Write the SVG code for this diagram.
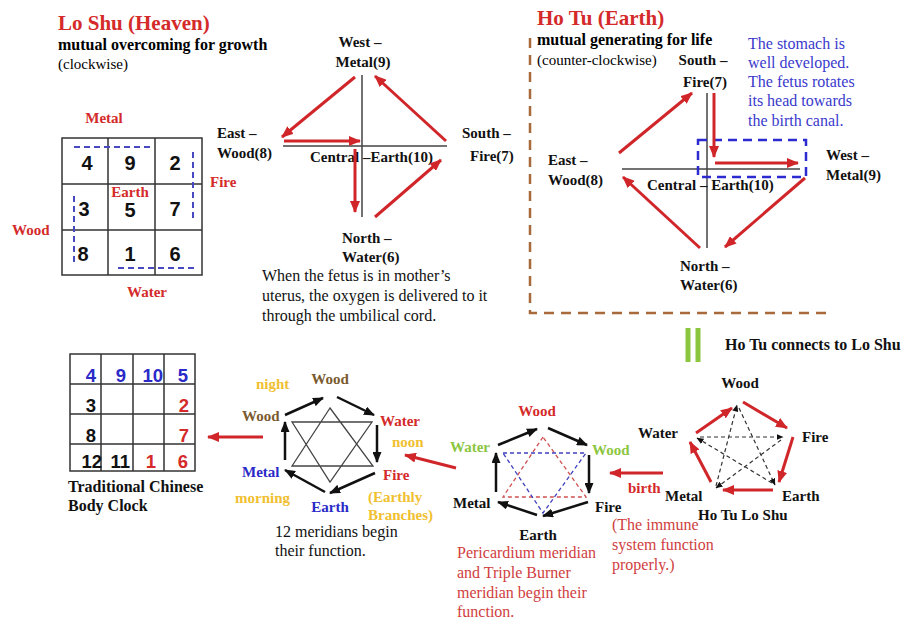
<svg xmlns="http://www.w3.org/2000/svg" width="903" height="619" viewBox="0 0 903 619">
<defs>
<style>
.s{font-family:"Liberation Serif","Times New Roman",serif}
.b{font-weight:bold}
.l{font-size:15px;font-weight:bold}
.r16{font-size:16px}
.n{font-family:"Liberation Sans",Arial,sans-serif;font-weight:bold}
.title{font-size:21px;font-weight:bold;fill:#d42a2a}
.red{fill:#d42a2a}
.lred{fill:#d04040}
.blue{fill:#2a2ac8}
.lblue{fill:#3a3acc}
.green{fill:#8cc63f}
.yel{fill:#f0c030}
.brn{fill:#7a5a2e}
.ra{stroke:#d0262a;stroke-width:3;fill:none;marker-end:url(#mr)}
.ba{stroke:#111;stroke-width:2.5;fill:none;marker-end:url(#mb)}
.ax{stroke:#444;stroke-width:1.5;fill:none}
.grid{stroke:#333;stroke-width:1.5;fill:none}
.bd{stroke:#4848c0;stroke-width:2;stroke-dasharray:6 4;fill:none}
.sd{stroke:#333;stroke-width:1.2;stroke-dasharray:4 3;fill:none;marker-end:url(#ms)}
</style>
<marker id="mr" markerUnits="userSpaceOnUse" markerWidth="12" markerHeight="10" viewBox="0 0 12 10" refX="11" refY="5" orient="auto"><path d="M0,0 L12,5 L0,10 z" fill="#d0262a"/></marker>
<marker id="mb" markerUnits="userSpaceOnUse" markerWidth="11" markerHeight="9" viewBox="0 0 11 9" refX="10" refY="4.5" orient="auto"><path d="M0,0 L11,4.5 L0,9 z" fill="#111"/></marker>
<marker id="ms" markerUnits="userSpaceOnUse" markerWidth="7" markerHeight="6" viewBox="0 0 7 6" refX="6.5" refY="3" orient="auto"><path d="M0,0 L7,3 L0,6 z" fill="#111"/></marker>
</defs>
<rect width="903" height="619" fill="#fff"/>

<g id="lo-shu-title" class="s">
<text x="58" y="30" class="title">Lo Shu (Heaven)</text>
<text x="58" y="50" class="b" font-size="16">mutual overcoming for growth</text>
<text x="58" y="69" font-size="15">(clockwise)</text>
</g>

<g id="lo-shu-grid">
<rect x="62" y="138" width="140" height="137" class="grid"/>
<path d="M108,138 V275 M155,138 V275 M62,184 H202 M62,230 H202" class="grid"/>
<path d="M74,147 H153 M193,152 V222 M74,196 V265 M118,268 H196" class="bd"/>
<g class="n" font-size="20" text-anchor="middle" fill="#111">
<text x="87" y="170">4</text><text x="130" y="170">9</text><text x="175" y="170">2</text>
<text x="84" y="216">3</text><text x="130" y="217">5</text><text x="175" y="216">7</text>
<text x="83" y="261">8</text><text x="130" y="261">1</text><text x="175" y="261">6</text>
</g>
<g class="s l red">
<text x="104" y="123" text-anchor="middle">Metal</text>
<text x="210" y="187">Fire</text>
<text x="12" y="235">Wood</text>
<text x="147" y="297" text-anchor="middle">Water</text>
<text x="130" y="197" text-anchor="middle">Earth</text>
</g>
</g>

<g id="lo-shu-compass" class="s">
<path d="M362,75 V217 M283,146 H447" class="ax"/>
<g class="l" fill="#111">
<text x="360" y="47" text-anchor="middle">West –</text>
<text x="363" y="67" text-anchor="middle">Metal(9)</text>
<text x="217" y="138">East –</text>
<text x="217" y="158">Wood(8)</text>
<text x="310" y="162">Central –Earth(10)</text>
<text x="462" y="138">South –</text>
<text x="470" y="161">Fire(7)</text>
<text x="342" y="243">North –</text>
<text x="342" y="262">Water(6)</text>
</g>
<g class="r16" fill="#111">
<text x="262" y="281">When the fetus is in mother’s</text>
<text x="262" y="301">uterus, the oxygen is delivered to it</text>
<text x="262" y="321">through the umbilical cord.</text>
</g>
</g>

<g id="ho-tu" class="s">
<path d="M530,38 V313 H833" stroke="#a86a3a" stroke-width="2.5" stroke-dasharray="10 7" fill="none"/>
<text x="537" y="25" class="title">Ho Tu (Earth)</text>
<text x="537" y="45" class="b" font-size="16">mutual generating for life</text>
<text x="537" y="65" font-size="15">(counter-clockwise)</text>
<path d="M707,93 V248 M622,169 H800" class="ax"/>
<rect x="698" y="140" width="108" height="37" stroke="#2b2bd0" stroke-width="2.5" stroke-dasharray="9 6" fill="none"/>
<g class="l" fill="#111">
<text x="703" y="65" text-anchor="middle">South –</text>
<text x="705" y="87" text-anchor="middle">Fire(7)</text>
<text x="548" y="165">East –</text>
<text x="548" y="185">Wood(8)</text>
<text x="647" y="190">Central – Earth(10)</text>
<text x="826" y="160">West –</text>
<text x="826" y="180">Metal(9)</text>
<text x="680" y="271">North –</text>
<text x="680" y="290">Water(6)</text>
</g>
<g class="r16 lblue">
<text x="748" y="49">The stomach is</text>
<text x="748" y="68">well developed.</text>
<text x="748" y="87">The fetus rotates</text>
<text x="748" y="106">its head towards</text>
<text x="748" y="126">the birth canal.</text>
</g>
</g>

<g id="ho-tu-connects" class="s">
<path d="M688,328 V362 M698,328 V362" stroke="#8cc63f" stroke-width="5"/>
<text x="725" y="350" class="b" font-size="16" fill="#111">Ho Tu connects to Lo Shu</text>
</g>

<g id="pentagon" class="s">
<g class="l" fill="#111">
<text x="740" y="388" text-anchor="middle">Wood</text>
<text x="638" y="438">Water</text>
<text x="802" y="442">Fire</text>
<text x="665" y="501">Metal</text>
<text x="782" y="501">Earth</text>
<text x="698" y="520">Ho Tu Lo Shu</text>
</g>
<path d="M700,437 L783,437" class="sd"/>
<path d="M739,408 L775,485" class="sd"/>
<path d="M772,483 L697,438" class="sd"/>
<path d="M781,440 L716,488" class="sd"/>
<path d="M716,486 L737,405" class="sd"/>
</g>

<g id="hexagon-2" class="s">
<path d="M543,437 L503,497 L586,497 Z" stroke="#d05050" stroke-width="1.3" stroke-dasharray="4 3" fill="none"/>
<path d="M503,453 L586,453 L543,513 Z" stroke="#4040c0" stroke-width="1.3" stroke-dasharray="4 3" fill="none"/>
<g class="l">
<text x="537" y="416" text-anchor="middle" class="red">Wood</text>
<text x="450" y="452" class="green">Water</text>
<text x="592" y="455" class="green">Wood</text>
<text x="453" y="508" fill="#111">Metal</text>
<text x="595" y="512" fill="#111">Fire</text>
<text x="538" y="540" text-anchor="middle" fill="#111">Earth</text>
<text x="628" y="493" class="red">birth</text>
</g>
<g class="r16 lred">
<text x="457" y="558">Pericardium meridian</text>
<text x="457" y="578">and Triple Burner</text>
<text x="457" y="598">meridian begin their</text>
<text x="457" y="617">function.</text>
<text x="612" y="530">(The immune</text>
<text x="612" y="550">system function</text>
<text x="612" y="570">properly.)</text>
</g>
</g>

<g id="hexagon-1" class="s">
<path d="M330,408 L292,466 L373,466 Z M292,422 L372,422 L330,482 Z" stroke="#444" stroke-width="1.3" fill="none"/>
<g class="l">
<text x="330" y="384" text-anchor="middle" class="brn">Wood</text>
<text x="256" y="389" class="yel">night</text>
<text x="242" y="421" class="brn">Wood</text>
<text x="380" y="426" class="red">Water</text>
<text x="392" y="447" class="yel">noon</text>
<text x="242" y="477" class="blue">Metal</text>
<text x="383" y="480" class="red">Fire</text>
<text x="235" y="503" class="yel">morning</text>
<text x="330" y="512" text-anchor="middle" class="blue">Earth</text>
<text x="368" y="502" class="yel">(Earthly</text>
<text x="368" y="520" class="yel">Branches)</text>
</g>
<g class="r16" fill="#111">
<text x="275" y="537">12 meridians begin</text>
<text x="275" y="556">their function.</text>
</g>
</g>

<g id="body-clock">
<rect x="70" y="354" width="125" height="117" class="grid"/>
<path d="M101,354 V471 M133,354 V471 M164,354 V471 M70,384 H195 M70,414 H195 M70,444 H195" class="grid"/>
<g class="n" font-size="18.5" text-anchor="end">
<text x="96" y="382" class="blue">4</text><text x="126" y="382" class="blue">9</text><text x="163" y="382" class="blue">10</text><text x="188" y="382" class="blue">5</text>
<text x="96" y="412" fill="#111">3</text><text x="189" y="412" class="red">2</text>
<text x="96" y="442" fill="#111">8</text><text x="189" y="442" class="red">7</text>
<text x="102" y="468" fill="#111">12</text><text x="130" y="468" fill="#111">11</text><text x="156" y="468" class="red">1</text><text x="188" y="468" class="red">6</text>
</g>
<g class="s b" font-size="16" fill="#111">
<text x="68" y="492">Traditional Chinese</text>
<text x="68" y="511">Body Clock</text>
</g>
</g>

<g id="connectors">
<path d="M355,77 L282,137" class="ra"/>
<path d="M284,141 L360,141" class="ra"/>
<path d="M446,141 L375,76" class="ra"/>
<path d="M355,149 L355,212" class="ra"/>
<path d="M375,217 L441,160" class="ra"/>
<path d="M619,153 L692,93" class="ra"/>
<path d="M714,93 L714,157" class="ra"/>
<path d="M715,163 L798,163" class="ra"/>
<path d="M805,178 L725,247" class="ra"/>
<path d="M700,248 L623,177" class="ra"/>
<path d="M743,402 L787,428" class="ra"/>
<path d="M793,437 L779,482" class="ra"/>
<path d="M773,490 L723,490" class="ra"/>
<path d="M711,482 L690,442" class="ra"/>
<path d="M696,433 L732,408" class="ra"/>
<path d="M663,473 L610,473" class="ra"/>
<path d="M456,468 L405,455" class="ra"/>
<path d="M263,437 L208,437" class="ra"/>
<path d="M498,445 L537,429" class="ba"/>
<path d="M548,428 L587,445" class="ba"/>
<path d="M589,455 L589,493" class="ba"/>
<path d="M588,502 L543,516" class="ba"/>
<path d="M537,515 L498,502" class="ba"/>
<path d="M496,492 L496,453" class="ba"/>
<path d="M285,415 L323,398" class="ba"/>
<path d="M337,397 L374,415" class="ba"/>
<path d="M377,425 L377,462" class="ba"/>
<path d="M375,473 L330,493" class="ba"/>
<path d="M325,492 L285,470" class="ba"/>
<path d="M285,460 L285,422" class="ba"/>
</g>
</svg>
